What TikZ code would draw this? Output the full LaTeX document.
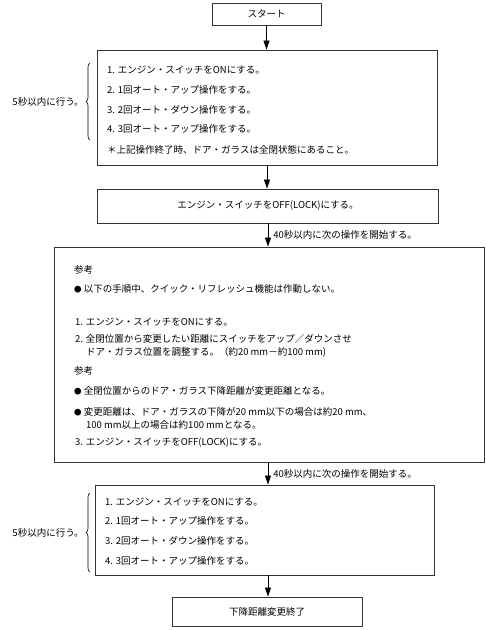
\documentclass[tikz,border=0pt]{standalone}
\usepackage{fontspec}
\setmainfont{Noto Sans CJK JP}
\usetikzlibrary{arrows.meta,decorations.pathreplacing}
\newcommand{\bul}{{\fontsize{7.5}{7.5}\selectfont ●}}
\begin{document}
\begin{tikzpicture}[x=1pt,y=-1pt,
  box/.style={draw=black!80,line width=0.9pt,minimum width=#1,inner sep=0pt},
  txt/.style={anchor=west,inner sep=0pt,font=\fontsize{9.5}{11}\selectfont},
  ctxt/.style={inner sep=0pt,font=\fontsize{9.5}{11}\selectfont},
  arr/.style={-{Triangle[length=9pt,width=6pt]},line width=0.8pt},
  brc/.style={decorate,decoration={brace,amplitude=4pt},line width=0.6pt}]
\useasboundingbox (0,0) rectangle (486,630);
% boxes
\node[box=109pt,minimum height=22pt] (b1) at (266.5,14) {};
\node[ctxt] (t1) at (b1) {スタート};
\node[box=340pt,minimum height=115pt] (b2) at (267,107.5) {};
\node[txt] (s1) at (107,70) {1. エンジン・スイッチをONにする。};
\node[txt] (s2) at (107,90) {2. 1回オート・アップ操作をする。};
\node[txt] (s3) at (107,110) {3. 2回オート・ダウン操作をする。};
\node[txt] (s4) at (107,129) {4. 3回オート・アップ操作をする。};
\node[txt] (s5) at (107,150) {＊上記操作終了時、ドア・ガラスは全閉状態にあること。};
\node[box=341pt,minimum height=34pt] (b3) at (268,206) {};
\node[ctxt] (t3) at (b3) {エンジン・スイッチをOFF(LOCK)にする。};
\node[box=430pt,minimum height=215pt] (b4) at (269,354.5) {};
\node[txt] (r1) at (74,270) {参考};
\node[txt] (r2) at (74,289) {\bul\ 以下の手順中、クイック・リフレッシュ機能は作動しない。};
\node[txt] (r3) at (75,322) {1. エンジン・スイッチをONにする。};
\node[txt] (r4) at (75,339) {2. 全閉位置から変更したい距離にスイッチをアップ／ダウンさせ};
\node[txt] (r5) at (86,352) {ドア・ガラス位置を調整する。（約20 mm－約100 mm)};
\node[txt] (r6) at (74,371) {参考};
\node[txt] (r7) at (74,391) {\bul\ 全閉位置からのドア・ガラス下降距離が変更距離となる。};
\node[txt] (r8) at (74,412) {\bul\ 変更距離は、ドア・ガラスの下降が20 mm以下の場合は約20 mm、};
\node[txt] (r9) at (86,425) {100 mm以上の場合は約100 mmとなる。};
\node[txt] (r10) at (75,443) {3. エンジン・スイッチをOFF(LOCK)にする。};
\node[box=339pt,minimum height=90pt] (b5) at (264.5,530) {};
\node[txt] (u1) at (105,502) {1. エンジン・スイッチをONにする。};
\node[txt] (u2) at (105,521) {2. 1回オート・アップ操作をする。};
\node[txt] (u3) at (105,541) {3. 2回オート・ダウン操作をする。};
\node[txt] (u4) at (105,561) {4. 3回オート・アップ操作をする。};
\node[box=190pt,minimum height=29pt] (b6) at (267,611.5) {};
\node[ctxt] (t6) at (b6) {下降距離変更終了};
% arrows
\draw[arr] (b1.south) -- (b1.south |- b2.north);
\draw[arr] (b2.south) -- (b2.south |- b3.north);
\draw[arr] (b3.south) -- (b3.south |- b4.north) node[midway,right=5pt,ctxt,anchor=west] (l1) {40秒以内に次の操作を開始する。};
\draw[arr] (b4.south -| b3.south) -- (b3.south |- b5.north) node[midway,right=5pt,ctxt,anchor=west] (l2) {40秒以内に次の操作を開始する。};
\draw[arr] (b5.south -| b3.south) -- (b3.south |- b6.north);
% braces
\coordinate (c1a) at (90,140);
\coordinate (c1b) at (90,63);
\draw[brc] (c1a) -- (c1b) node[midway,left=6pt,ctxt] (k1) {5秒以内に行う。};
\coordinate (c2a) at (90,572);
\coordinate (c2b) at (90,493);
\draw[brc] (c2a) -- (c2b) node[midway,left=6pt,ctxt] (k2) {5秒以内に行う。};
\end{tikzpicture}
\end{document}
